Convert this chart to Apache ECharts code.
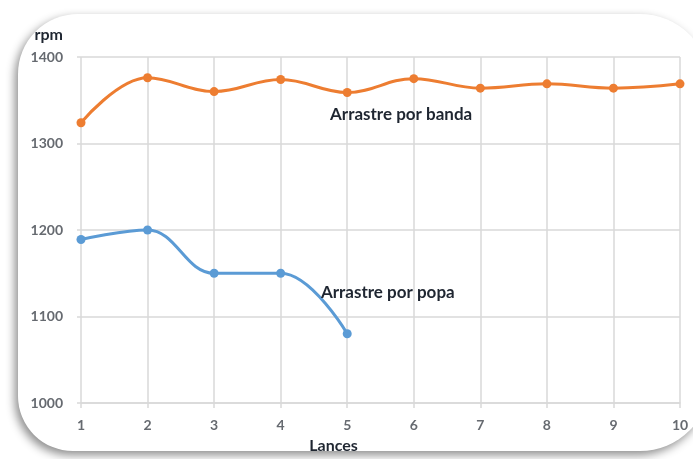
<!DOCTYPE html>
<html>
<head>
<meta charset="utf-8">
<script src="https://cdn.jsdelivr.net/npm/echarts@6/dist/echarts.min.js"></script>
<style>
  html, body { margin: 0; padding: 0; background: #ffffff; }
  #chart { width: 693px; height: 459px; }
</style>
</head>
<body>
<div id="chart"></div>
<script>
// Lance numbers (x axis)
const lances = [1, 2, 3, 4, 5, 6, 7, 8, 9, 10];
// Engine speed (rpm) for side trawling, lances 1-10
const rpmBanda = [1324, 1376, 1360, 1374, 1359, 1375, 1364, 1369, 1364, 1369];
// Engine speed (rpm) for stern trawling, lances 1-5
const rpmPopa = [1189, 1200, 1150, 1150, 1080];
// Y axis ticks
const yTicks = [1000, 1100, 1200, 1300, 1400];

const serieBanda = 'Arrastre por banda';
const seriePopa = 'Arrastre por popa';

const pairs = (xs, ys) => ys.map((v, i) => [xs[i], v]);

const font = 'Lato, "Open Sans", "DejaVu Sans", sans-serif';
const gridColor = '#d9d9d9';
const tickText = '#666a70';
const darkText = '#1f2631';

const chart = echarts.init(document.getElementById('chart'), null, { renderer: 'canvas' });

function seriesLabel(coord) {
  return {
    symbol: 'circle',
    symbolSize: 0,
    silent: true,
    label: {
      show: true,
      position: 'inside',
      formatter: '{a}',
      fontFamily: font,
      fontWeight: 'bold',
      fontSize: 17,
      color: darkText
    },
    data: [{ coord: coord }]
  };
}

chart.setOption({
  animation: false,
  backgroundColor: '#ffffff',
  graphic: [{
    type: 'rect',
    z: -10,
    silent: true,
    shape: { x: 18, y: 14, width: 692, height: 437, r: [60, 70, 70, 55] },
    style: {
      fill: '#ffffff',
      shadowBlur: 10,
      shadowOffsetX: -3,
      shadowOffsetY: 4,
      shadowColor: 'rgba(0,0,0,0.45)'
    }
  }],
  grid: { left: 81, right: 13, top: 57, bottom: 51, containLabel: false },
  xAxis: {
    type: 'value',
    min: lances[0],
    max: lances[lances.length - 1],
    interval: 1,
    name: 'Lances',
    nameLocation: 'middle',
    nameGap: 35,
    nameTextStyle: {
      fontFamily: font, fontWeight: 'bold', fontSize: 16, color: darkText,
      padding: [0, 94, 0, 0]
    },
    axisLine: { show: true, lineStyle: { color: gridColor, width: 1.5 } },
    axisTick: { show: true, length: 5, lineStyle: { color: gridColor, width: 1.5 } },
    axisLabel: {
      fontFamily: font, fontWeight: 'bold', fontSize: 14, color: tickText, margin: 15,
      formatter: v => String(v)
    },
    splitLine: { show: true, lineStyle: { color: gridColor, width: 1.5 } }
  },
  yAxis: {
    type: 'value',
    min: yTicks[0],
    max: yTicks[yTicks.length - 1],
    interval: yTicks[1] - yTicks[0],
    name: 'rpm',
    nameLocation: 'end',
    nameGap: 14,
    nameTextStyle: {
      fontFamily: font, fontWeight: 'bold', fontSize: 16, color: darkText,
      align: 'right', padding: [0, 18, 0, 0]
    },
    axisLine: { show: false },
    axisTick: { show: true, length: 4, lineStyle: { color: gridColor, width: 1.5 } },
    axisLabel: {
      fontFamily: font, fontWeight: 'bold', fontSize: 14, color: tickText, margin: 18,
      formatter: v => String(v)
    },
    splitLine: { show: true, lineStyle: { color: gridColor, width: 1.5 } }
  },
  series: [
    {
      name: serieBanda,
      type: 'line',
      data: pairs(lances, rpmBanda),
      smooth: 0.4,
      symbol: 'circle',
      symbolSize: 9,
      lineStyle: { color: '#ed7d31', width: 3 },
      itemStyle: { color: '#ed7d31' },
      markPoint: seriesLabel([5.81, 1333])
    },
    {
      name: seriePopa,
      type: 'line',
      data: pairs(lances, rpmPopa),
      smooth: 0.4,
      symbol: 'circle',
      symbolSize: 9,
      lineStyle: { color: '#5b9bd5', width: 3 },
      itemStyle: { color: '#5b9bd5' },
      markPoint: seriesLabel([5.61, 1128])
    }
  ]
});
</script>
</body>
</html>
